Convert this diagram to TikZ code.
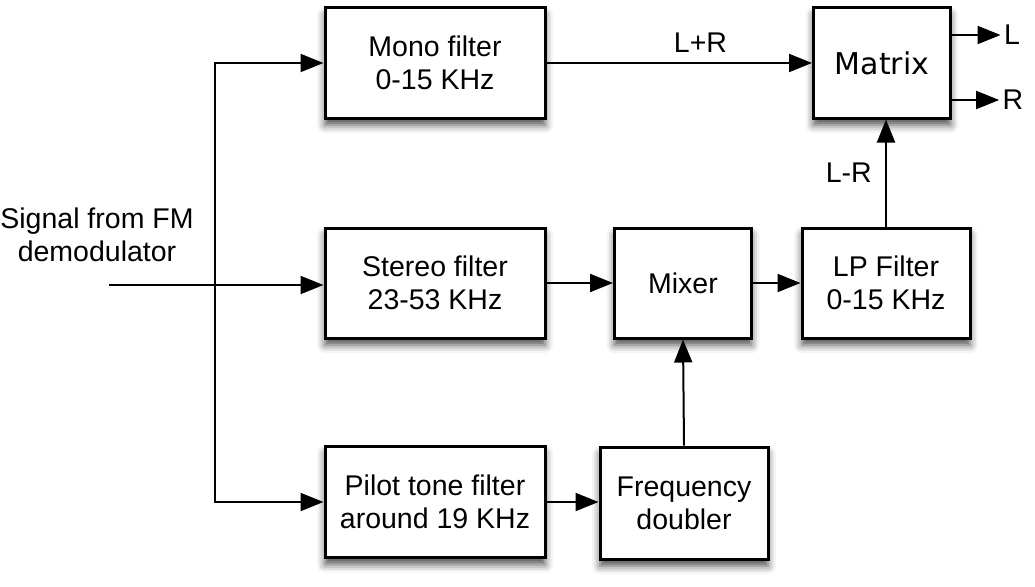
\documentclass[tikz,border=0pt]{standalone}
\usepackage{fontspec}
\setmainfont{Liberation Sans}
\newfontfamily\matrixfont{DejaVu Sans}
\usetikzlibrary{arrows.meta,shadows.blur}

\begin{document}
\begin{tikzpicture}[x=1pt,y=-1pt,
		font=\fontsize{28.5}{33}\selectfont,
		block/.style = {draw,fill=white,line width=3pt,align=center,
			blur shadow={shadow xshift=0pt,shadow yshift=-7pt,shadow blur radius=8pt,shadow opacity=70}},
		sig/.style = {line width=2pt,-{Triangle[length=23pt,width=18pt]}}]
			\useasboundingbox (0,0) rectangle (1035,586);
			\node[block,minimum width=220pt,minimum height=110pt] at (435,63) (mono) {Mono filter\\0-15 KHz};
			\node[block,minimum width=220pt,minimum height=110pt] at (435,283) (stereo) {Stereo filter\\23-53 KHz};
			\node[block,minimum width=220pt,minimum height=111pt] at (435,502) (pilot) {Pilot tone filter\\around 19 KHz};
			\node[block,minimum width=137pt,minimum height=110pt] at (683,283) (mixer) {Mixer};
			\node[block,minimum width=168pt,minimum height=112pt] at (684,503) (doubler) {Frequency\\doubler};
			\node[block,minimum width=168pt,minimum height=110pt] at (886,283) (lp) {LP Filter\\0-15 KHz};
			\node[block,minimum width=137pt,minimum height=110pt] at (882,63) (matrix) {\matrixfont\fontsize{30}{33}\selectfont Matrix};
			\node[align=center] at (97,235) (src) {Signal from FM\\demodulator};
			\node at (1012,35) (outl) {L};
			\node at (1013,100) (outr) {R};
			\coordinate (in) at (109,285);
			\coordinate (split) at (215,285);
			\draw[sig] (in) -- (in -| stereo.west);
			\draw[sig] (split) |- (mono.west);
			\draw[sig] (split) |- (pilot.west);
			\draw[sig] (mono.east) -- node[pos=0.58,above=6pt] {L+R} (matrix.west |- mono.east);
			\draw[sig] (stereo.east) -- (mixer.west);
			\draw[sig] (mixer.east) -- (lp.west);
			\draw[sig] (pilot.east) -- (doubler.west |- pilot.east);
			\draw[sig] (doubler.north) -- (mixer.south);
			\draw[sig] (lp.north) -- node[left=10pt] {L-R} (lp.north |- matrix.south);
			\draw[sig] (matrix.east |- outl) -- (outl);
			\draw[sig] (matrix.east |- outr) -- (outr);
		\end{tikzpicture}
\end{document}
